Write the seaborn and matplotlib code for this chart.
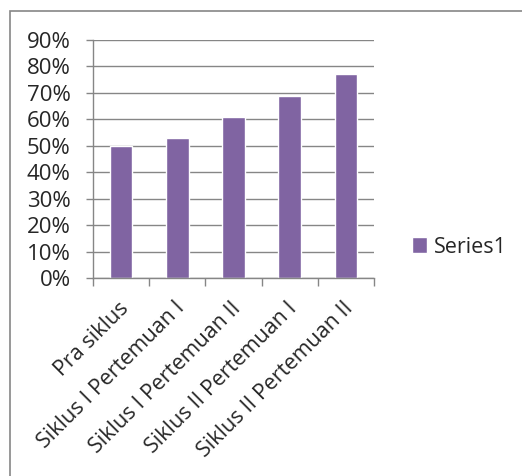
import matplotlib
matplotlib.use("Agg")
import matplotlib.pyplot as plt
import matplotlib.transforms as mtrans
import seaborn as sns
import pandas as pd
from matplotlib.patches import Rectangle
from matplotlib.ticker import PercentFormatter

categories = ["Pra siklus", "Siklus I Pertemuan I", "Siklus I Pertemuan II",
              "Siklus II Pertemuan I", "Siklus II Pertemuan II"]
values = [50, 53, 61, 69, 77]
series_name = "Series1"

sns.set_style("white")
plt.rcParams['font.family'] = ['Open Sans', 'DejaVu Sans']

df = pd.DataFrame({"cat": categories, "val": values, "series": series_name})

fig = plt.figure(figsize=(5.22, 4.76), dpi=100)
ax = fig.add_axes([93/522, 1-278/476, (374-93)/522, (278-40)/476])

sns.barplot(data=df, x="cat", y="val", hue="series", palette=["#8064A2"],
            width=0.4, ax=ax, saturation=1)

grid_c = "#868686"
ax.set_ylim(0, 90)
ax.set_yticks(range(0, 91, 10))
ax.yaxis.set_major_formatter(PercentFormatter(decimals=0))
ax.yaxis.grid(True, color=grid_c, linewidth=1)
ax.set_axisbelow(True)
ax.set_xlim(-0.5, len(categories) - 0.5)
ax.set_xlabel("")
ax.set_ylabel("")

for s in ["top", "right"]:
    ax.spines[s].set_visible(False)
for s in ["left", "bottom"]:
    ax.spines[s].set_color(grid_c)
    ax.spines[s].set_linewidth(1)

ax.tick_params(axis="y", direction="out", length=5, width=1, color=grid_c,
               labelsize=16, pad=11, left=True)
ax.set_xticks([i for i in range(len(categories))])
ax.set_xticklabels(categories, rotation=45, ha="right", rotation_mode="anchor",
                   fontsize=15.5)
ax.tick_params(axis="x", length=0, pad=12)
off = mtrans.ScaledTranslation(-3/100, -3/100, fig.dpi_scale_trans)
for lab in ax.get_xticklabels():
    lab.set_transform(lab.get_transform() + off)
ax.set_xticks([i - 0.5 for i in range(len(categories) + 1)], minor=True)
ax.tick_params(axis="x", which="minor", direction="out", length=6, width=1,
               color=grid_c, bottom=True)

leg = ax.legend(loc="center left", bbox_to_anchor=(1.105, (278-247)/(278-40)),
                frameon=False, fontsize=15.5, handlelength=0.7, handleheight=0.7,
                handletextpad=0.3, borderaxespad=0)

fig.patches.append(Rectangle((10/522, -0.05), 1.0, 1 - 11/476 + 0.05,
                             transform=fig.transFigure, fill=False,
                             edgecolor="#868686", linewidth=1.2))

fig.savefig("out.png", dpi=100)
